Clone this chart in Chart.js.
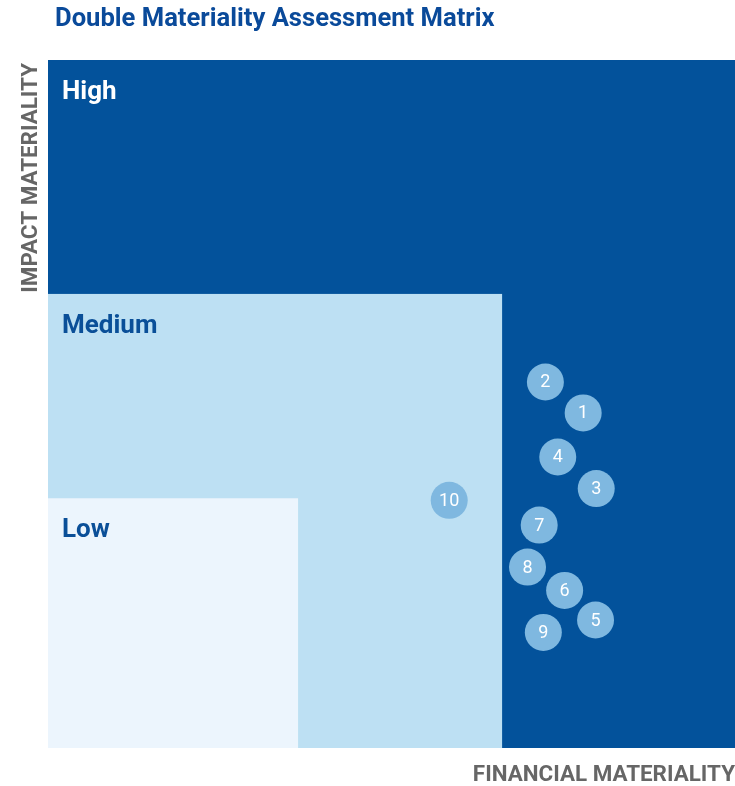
<!DOCTYPE html>
<html>
<head>
<meta charset="utf-8">
<script src="https://cdn.jsdelivr.net/npm/chart.js@4.4.1/dist/chart.umd.min.js"></script>
<style>
	html, body { margin: 0; padding: 0; overflow: hidden; background: #ffffff; }
	#matrix_chart { display: block; }
</style>
</head>
<body>
<canvas id="matrix_chart" width="735" height="786"></canvas>
<script>
// 데이터 (주제 번호, 재무 중요도, 영향 중요도)
const topicIds = ['1', '2', '3', '4', '5', '6', '7', '8', '9', '10'];
const financialScores = [77.9, 72.4, 79.8, 74.2, 79.7, 75.2, 71.5, 69.8, 72.1, 58.4];
const impactScores = [48.7, 53.2, 37.7, 42.3, 18.6, 22.9, 32.4, 26.3, 16.8, 36.0];

// 구역 (High / Medium / Low) 경계값
const zoneNames = ['High', 'Medium', 'Low'];
const zoneXMax = [100, 66.1, 36.4];
const zoneYMax = [100, 66.0, 36.3];
const zoneColors = ['#03529b', '#bde0f3', '#ecf5fd'];
const zoneTextColors = ['#ffffff', '#0a4f98', '#0a4f98'];

const titleText = 'Double Materiality Assessment Matrix';
const xTitle = 'FINANCIAL MATERIALITY';
const yTitle = 'IMPACT MATERIALITY';

// 배경 구역 그리기
const zonePlugin = {
	id: 'zones',
	beforeDatasetsDraw(chart) {
		const ctx = chart.ctx;
		const x = chart.scales.x, y = chart.scales.y;
		ctx.save();
		for (let i = 0; i < zoneNames.length; i++) {
			const left = x.getPixelForValue(0);
			const right = x.getPixelForValue(zoneXMax[i]);
			const top = y.getPixelForValue(zoneYMax[i]);
			const bottom = y.getPixelForValue(0);
			ctx.fillStyle = zoneColors[i];
			ctx.fillRect(left, top, right - left, bottom - top);
			ctx.fillStyle = zoneTextColors[i];
			ctx.font = 'bold 26px Roboto';
			ctx.textBaseline = 'alphabetic';
			ctx.textAlign = 'left';
			ctx.fillText(zoneNames[i], left + 14, top + 39);
		}
		ctx.restore();
	},
	afterDatasetsDraw(chart) {
		const ctx = chart.ctx;
		const meta = chart.getDatasetMeta(0);
		ctx.save();
		ctx.fillStyle = '#ffffff';
		ctx.font = '18px Roboto';
		ctx.textAlign = 'center';
		ctx.textBaseline = 'middle';
		meta.data.forEach(function(pt, i) {
			ctx.fillText(topicIds[i], pt.x, pt.y + 1);
		});
		ctx.restore();
	},
	afterDraw(chart) {
		const ctx = chart.ctx;
		const area = chart.chartArea;
		ctx.save();
		// 제목
		ctx.fillStyle = '#0a4a9a';
		ctx.font = 'bold 25.6px Roboto';
		ctx.textAlign = 'left';
		ctx.textBaseline = 'alphabetic';
		ctx.fillText(titleText, 55, 26);
		// x축 제목
		ctx.fillStyle = '#666666';
		ctx.font = 'bold 22.4px Roboto';
		ctx.textAlign = 'right';
		ctx.fillText(xTitle, area.right, 781);
		// y축 제목
		ctx.translate(37, area.top + 3);
		ctx.rotate(-Math.PI / 2);
		ctx.textAlign = 'right';
		ctx.fillText(yTitle, 0, 0);
		ctx.restore();
	}
};

const context = document.getElementById('matrix_chart').getContext('2d');
const matrix_chart = new Chart(context, {
	type: 'bubble',
	data: {
		datasets: [{
			label: 'Topics',
			data: topicIds.map(function(id, i) {
				return { x: financialScores[i], y: impactScores[i], r: 18.5 };
			}),
			backgroundColor: '#7fb8e0',
			borderWidth: 0,
			clip: false
		}]
	},
	options: {
		responsive: false,
		animation: false,
		layout: { autoPadding: false, padding: { left: 48, top: 60, right: 0, bottom: 38 } },
		plugins: {
			legend: { display: false },
			tooltip: { enabled: false },
			title: { display: false }
		},
		scales: {
			x: { type: 'linear', min: 0, max: 100, display: false },
			y: { type: 'linear', min: 0, max: 100, display: false }
		}
	},
	plugins: [zonePlugin]
});
</script>
</body>
</html>
